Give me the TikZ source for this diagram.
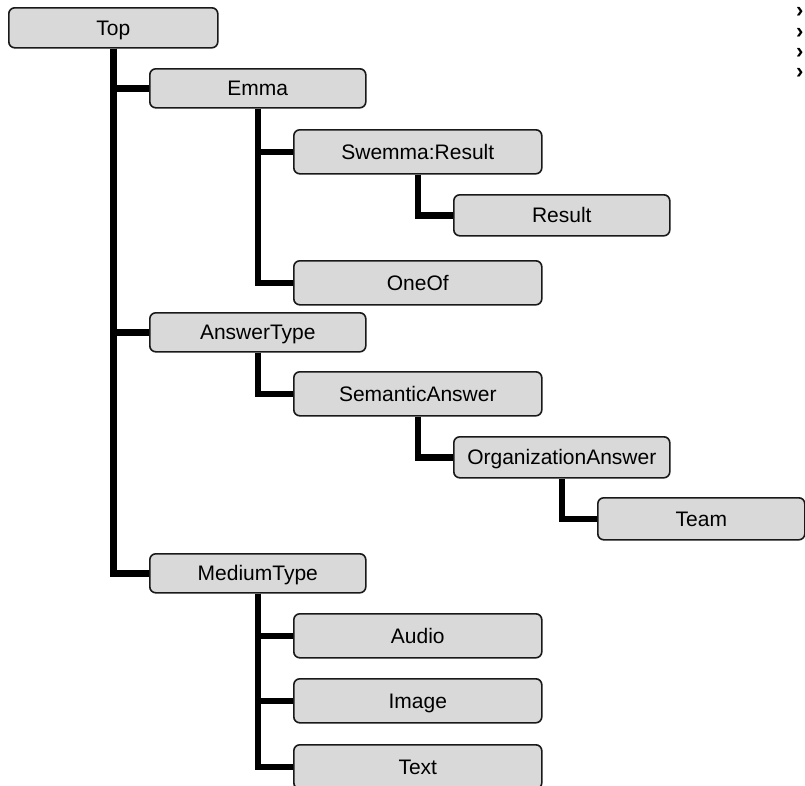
\documentclass[tikz,border=0pt]{standalone}
\usepackage{fontspec}
\setmainfont{Liberation Sans}
\usetikzlibrary{backgrounds}
\definecolor{boxfill}{RGB}{217,217,217}
\definecolor{boxline}{RGB}{25,25,25}
\begin{document}
\begin{tikzpicture}[x=1pt,y=-1pt,
  tbox/.style={draw=boxline, line width=1.6pt, fill=boxfill, rounded corners=6pt,
    anchor=north west, inner sep=0pt, text height=17pt, text depth=2pt,
    font=\fontsize{21}{25}\selectfont},
  lvone/.style={tbox, minimum width=216pt, minimum height=39pt},
  lvtwo/.style={tbox, minimum width=248pt, minimum height=44pt},
  lvthree/.style={tbox, minimum width=216pt, minimum height=41pt},
  link/.style={line width=6.5pt, line join=miter, black},
  edgemark/.style={font=\fontsize{22}{22}\selectfont\bfseries, anchor=base west, inner sep=0pt}]
\useasboundingbox (0,0) rectangle (805,785);
\clip (0,0) rectangle (805,785);

% hierarchy boxes
\node[tbox, minimum width=209pt, minimum height=40pt] (top) at (8,7) {Top};
\node[lvone] (emma) at (149,68) {Emma};
\node[lvtwo] (swemma) at (293,129) {Swemma:Result};
\node[lvthree] (result) at (453,194) {Result};
\node[lvtwo] (oneof) at (293,260) {OneOf};
\node[lvone] (answer) at (149,312) {AnswerType};
\node[lvtwo] (semantic) at (293,371) {SemanticAnswer};
\node[lvthree] (org) at (453,436) {OrganizationAnswer};
\node[tbox, minimum width=207pt, minimum height=42pt] (team) at (597,497) {Team};
\node[lvone] (medium) at (149,553) {MediumType};
\node[lvtwo] (audio) at (293,613) {Audio};
\node[lvtwo] (image) at (293,678) {Image};
\node[lvtwo] (text) at (293,744) {Text};

% chevrons at the right edge
\foreach \yy [count=\i] in {11,31.5,52,72}
  \node[edgemark] (m\i) at (796,\yy+6.6) {›};

% tree connectors
\begin{scope}[on background layer]
  \foreach \c in {emma,answer,medium} \draw[link] (top.south) |- (\c.west);
  \foreach \c in {swemma,oneof} \draw[link] (emma.south) |- (\c.west);
  \draw[link] (swemma.south) |- (result.west);
  \draw[link] (answer.south) |- (semantic.west);
  \draw[link] (semantic.south) |- (org.west);
  \draw[link] (org.south) |- (team.west);
  \foreach \c in {audio,image,text} \draw[link] (medium.south) |- (\c.west);
\end{scope}
\end{tikzpicture}
\end{document}
